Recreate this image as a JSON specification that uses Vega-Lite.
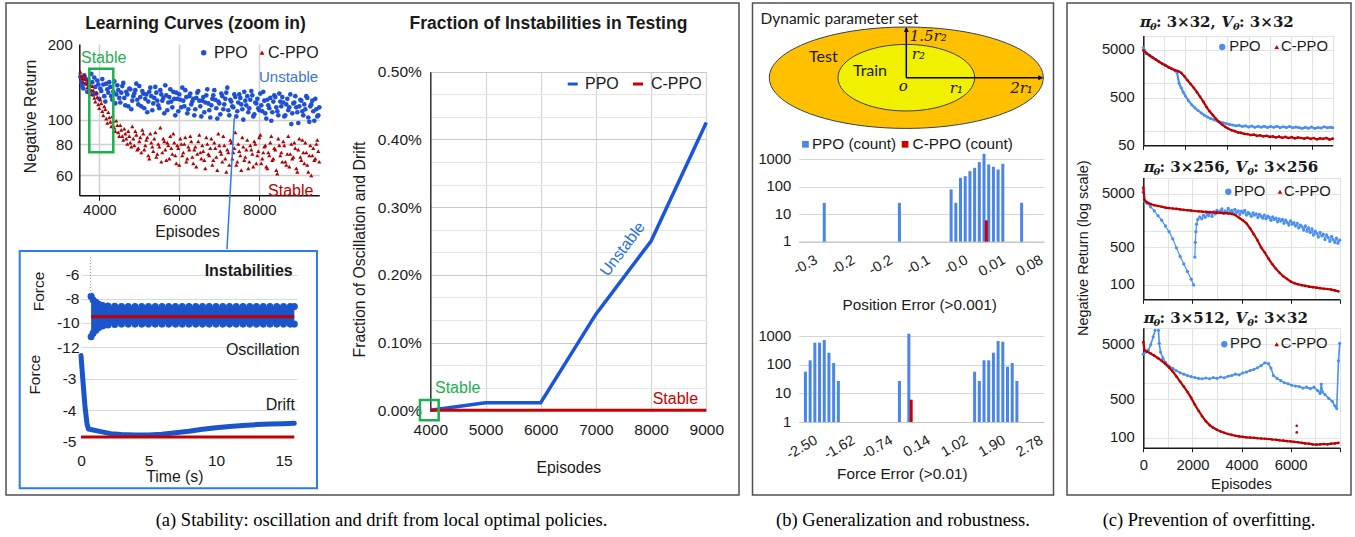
{
  "$schema": "https://vega.github.io/schema/vega-lite/v6.json",
  "background": "white",
  "padding": {"left": 5, "top": 2, "right": 5, "bottom": 2},
  "bounds": "flush",
  "spacing": 13.5,
  "resolve": {"scale": {"x": "independent", "y": "independent"}},
  "config": {
    "view": {"stroke": "#505050", "strokeWidth": 1.5},
    "axis": {"labelFont": "Liberation Sans", "titleFont": "Liberation Sans", "titleFontWeight": "normal", "labelColor": "#1a1a1a", "titleColor": "#1a1a1a", "labelFlush": false, "labelOverlap": false},
    "text": {"font": "Liberation Sans", "color": "#1a1a1a"},
    "title": {"font": "Liberation Serif", "fontWeight": "normal", "fontSize": 18.5, "color": "#000000", "orient": "bottom", "anchor": "middle", "frame": "group", "offset": 16}
  },
  "datasets": {
    "lcP": [
      {"x":3525,"y":148},{"x":3575,"y":136},{"x":3625,"y":150},{"x":3675,"y":139},{"x":3725,"y":144},{"x":3775,"y":130},{"x":3825,"y":141},{"x":3875,"y":147},{"x":3925,"y":127},{"x":3975,"y":138},
      {"x":4025,"y":133},{"x":4075,"y":145},{"x":4125,"y":124},{"x":4175,"y":139},{"x":4225,"y":128},{"x":4275,"y":135},{"x":4325,"y":120},{"x":4375,"y":142},{"x":4425,"y":126},{"x":4475,"y":131},
      {"x":4525,"y":117},{"x":4575,"y":136},{"x":4625,"y":122},{"x":4675,"y":129},{"x":4725,"y":113},{"x":4775,"y":132},{"x":4825,"y":119},{"x":4875,"y":127},{"x":4925,"y":139},{"x":4975,"y":115},
      {"x":5025,"y":123},{"x":5075,"y":130},{"x":5125,"y":111},{"x":5175,"y":126},{"x":5225,"y":118},{"x":5275,"y":134},{"x":5325,"y":109},{"x":5375,"y":122},{"x":5425,"y":128},{"x":5475,"y":114},
      {"x":5525,"y":131},{"x":5575,"y":119},{"x":5625,"y":106},{"x":5675,"y":125},{"x":5725,"y":117},{"x":5775,"y":132},{"x":5825,"y":112},{"x":5875,"y":121},{"x":5925,"y":128},{"x":5975,"y":108},
      {"x":6025,"y":120},{"x":6075,"y":134},{"x":6125,"y":113},{"x":6175,"y":123},{"x":6225,"y":110},{"x":6275,"y":127},{"x":6325,"y":118},{"x":6375,"y":104},{"x":6425,"y":122},{"x":6475,"y":130},
      {"x":6525,"y":113},{"x":6575,"y":119},{"x":6625,"y":107},{"x":6675,"y":125},{"x":6725,"y":116},{"x":6775,"y":102},{"x":6825,"y":121},{"x":6875,"y":131},{"x":6925,"y":111},{"x":6975,"y":118},
      {"x":7025,"y":105},{"x":7075,"y":124},{"x":7125,"y":115},{"x":7175,"y":128},{"x":7225,"y":109},{"x":7275,"y":120},{"x":7325,"y":113},{"x":7375,"y":126},{"x":7425,"y":103},{"x":7475,"y":117},
      {"x":7525,"y":122},{"x":7575,"y":110},{"x":7625,"y":129},{"x":7675,"y":114},{"x":7725,"y":107},{"x":7775,"y":120},{"x":7825,"y":125},{"x":7875,"y":105},{"x":7925,"y":116},{"x":7975,"y":111},
      {"x":8025,"y":127},{"x":8075,"y":108},{"x":8125,"y":119},{"x":8175,"y":101},{"x":8225,"y":114},{"x":8275,"y":122},{"x":8325,"y":107},{"x":8375,"y":125},{"x":8425,"y":112},{"x":8475,"y":104},
      {"x":8525,"y":118},{"x":8575,"y":123},{"x":8625,"y":103},{"x":8675,"y":115},{"x":8725,"y":109},{"x":8775,"y":126},{"x":8825,"y":106},{"x":8875,"y":117},{"x":8925,"y":112},{"x":8975,"y":97},
      {"x":9025,"y":120},{"x":9075,"y":108},{"x":9125,"y":115},{"x":9175,"y":124},{"x":9225,"y":102},{"x":9275,"y":113},{"x":9325,"y":119},{"x":9375,"y":99},{"x":9425,"y":110},{"x":9475,"y":104},
      {"x":3550,"y":141},{"x":3600,"y":133},{"x":3650,"y":146},{"x":3700,"y":129},{"x":3750,"y":137},{"x":3800,"y":152},{"x":3850,"y":126},{"x":3900,"y":135},{"x":3950,"y":143},{"x":4000,"y":121},
      {"x":4050,"y":130},{"x":4100,"y":138},{"x":4150,"y":118},{"x":4200,"y":132},{"x":4250,"y":141},{"x":4300,"y":124},{"x":4350,"y":129},{"x":4400,"y":116},{"x":4450,"y":137},{"x":4500,"y":122},
      {"x":4550,"y":128},{"x":4600,"y":140},{"x":4650,"y":114},{"x":4700,"y":126},{"x":4750,"y":133},{"x":4800,"y":110},{"x":4850,"y":124},{"x":4900,"y":131},{"x":4950,"y":120},{"x":5000,"y":136},
      {"x":5050,"y":113},{"x":5100,"y":127},{"x":5150,"y":121},{"x":5200,"y":107},{"x":5250,"y":129},{"x":5300,"y":124},{"x":5350,"y":116},{"x":5400,"y":135},{"x":5450,"y":119},{"x":5500,"y":111},
      {"x":5550,"y":126},{"x":5600,"y":122},{"x":5650,"y":137},{"x":5700,"y":109},{"x":5750,"y":123},{"x":5800,"y":118},{"x":5850,"y":129},{"x":5900,"y":104},{"x":5950,"y":121},{"x":6000,"y":126},
      {"x":6050,"y":112},{"x":6100,"y":119},{"x":6150,"y":131},{"x":6200,"y":106},{"x":6250,"y":124},{"x":6300,"y":115},{"x":6350,"y":121},{"x":6400,"y":110},{"x":6450,"y":128},{"x":6500,"y":119},
      {"x":6550,"y":103},{"x":6600,"y":123},{"x":6650,"y":117},{"x":6700,"y":132},{"x":6750,"y":109},{"x":6800,"y":114},{"x":6850,"y":125},{"x":6900,"y":120},{"x":6950,"y":101},{"x":7000,"y":116},
      {"x":7050,"y":127},{"x":7100,"y":110},{"x":7150,"y":121},{"x":7200,"y":134},{"x":7250,"y":104},{"x":7300,"y":118},{"x":7350,"y":112},{"x":7400,"y":123},{"x":7450,"y":108},{"x":7500,"y":126},
      {"x":7550,"y":115},{"x":7600,"y":100},{"x":7650,"y":119},{"x":7700,"y":124},{"x":7750,"y":111},{"x":7800,"y":130},{"x":7850,"y":103},{"x":7900,"y":117},{"x":7950,"y":121},{"x":8000,"y":109},
      {"x":8050,"y":114},{"x":8100,"y":129},{"x":8150,"y":106},{"x":8200,"y":120},{"x":8250,"y":111},{"x":8300,"y":99},{"x":8350,"y":118},{"x":8400,"y":123},{"x":8450,"y":108},{"x":8500,"y":127},
      {"x":8550,"y":113},{"x":8600,"y":117},{"x":8650,"y":104},{"x":8700,"y":121},{"x":8750,"y":112},{"x":8800,"y":96},{"x":8850,"y":116},{"x":8900,"y":124},{"x":8950,"y":107},{"x":9000,"y":113},
      {"x":9050,"y":119},{"x":9100,"y":104},{"x":9150,"y":110},{"x":9200,"y":122},{"x":9250,"y":98},{"x":9300,"y":115},{"x":9350,"y":108},{"x":9400,"y":121},{"x":9450,"y":103},{"x":9500,"y":112}
    ],
    "lcC": [
      {"x":3525,"y":155},{"x":3575,"y":146},{"x":3625,"y":150},{"x":3675,"y":139},{"x":3725,"y":143},{"x":3775,"y":131},{"x":3825,"y":136},{"x":3875,"y":122},{"x":3925,"y":128},{"x":3975,"y":115},
      {"x":4025,"y":120},{"x":4075,"y":108},{"x":4125,"y":113},{"x":4175,"y":101},{"x":4225,"y":107},{"x":4275,"y":98},{"x":4325,"y":103},{"x":4375,"y":93},{"x":4425,"y":99},{"x":4475,"y":89},
      {"x":4525,"y":95},{"x":4575,"y":86},{"x":4625,"y":92},{"x":4675,"y":84},{"x":4725,"y":90},{"x":4775,"y":81},{"x":4825,"y":94},{"x":4875,"y":79},{"x":4925,"y":87},{"x":4975,"y":77},
      {"x":5025,"y":85},{"x":5075,"y":91},{"x":5125,"y":76},{"x":5175,"y":83},{"x":5225,"y":72},{"x":5275,"y":88},{"x":5325,"y":78},{"x":5375,"y":84},{"x":5425,"y":71},{"x":5475,"y":80},
      {"x":5525,"y":93},{"x":5575,"y":74},{"x":5625,"y":82},{"x":5675,"y":69},{"x":5725,"y":79},{"x":5775,"y":86},{"x":5825,"y":73},{"x":5875,"y":81},{"x":5925,"y":67},{"x":5975,"y":77},
      {"x":6025,"y":84},{"x":6075,"y":72},{"x":6125,"y":80},{"x":6175,"y":68},{"x":6225,"y":78},{"x":6275,"y":86},{"x":6325,"y":71},{"x":6375,"y":76},{"x":6425,"y":65},{"x":6475,"y":82},
      {"x":6525,"y":74},{"x":6575,"y":79},{"x":6625,"y":69},{"x":6675,"y":85},{"x":6725,"y":73},{"x":6775,"y":77},{"x":6825,"y":66},{"x":6875,"y":81},{"x":6925,"y":71},{"x":6975,"y":88},
      {"x":7025,"y":75},{"x":7075,"y":68},{"x":7125,"y":79},{"x":7175,"y":62},{"x":7225,"y":74},{"x":7275,"y":83},{"x":7325,"y":70},{"x":7375,"y":77},{"x":7425,"y":66},{"x":7475,"y":80},
      {"x":7525,"y":72},{"x":7575,"y":85},{"x":7625,"y":69},{"x":7675,"y":76},{"x":7725,"y":64},{"x":7775,"y":79},{"x":7825,"y":73},{"x":7875,"y":82},{"x":7925,"y":67},{"x":7975,"y":75},
      {"x":8025,"y":87},{"x":8075,"y":70},{"x":8125,"y":78},{"x":8175,"y":65},{"x":8225,"y":74},{"x":8275,"y":81},{"x":8325,"y":69},{"x":8375,"y":77},{"x":8425,"y":63},{"x":8475,"y":84},
      {"x":8525,"y":72},{"x":8575,"y":68},{"x":8625,"y":79},{"x":8675,"y":66},{"x":8725,"y":86},{"x":8775,"y":73},{"x":8825,"y":70},{"x":8875,"y":81},{"x":8925,"y":64},{"x":8975,"y":76},
      {"x":9025,"y":71},{"x":9075,"y":83},{"x":9125,"y":67},{"x":9175,"y":74},{"x":9225,"y":62},{"x":9275,"y":79},{"x":9325,"y":72},{"x":9375,"y":69},{"x":9425,"y":80},{"x":9475,"y":75},
      {"x":3550,"y":149},{"x":3600,"y":141},{"x":3650,"y":145},{"x":3700,"y":134},{"x":3750,"y":138},{"x":3800,"y":126},{"x":3850,"y":131},{"x":3900,"y":118},{"x":3950,"y":123},{"x":4000,"y":111},
      {"x":4050,"y":116},{"x":4100,"y":104},{"x":4150,"y":110},{"x":4200,"y":97},{"x":4250,"y":102},{"x":4300,"y":94},{"x":4350,"y":99},{"x":4400,"y":90},{"x":4450,"y":95},{"x":4500,"y":86},
      {"x":4550,"y":91},{"x":4600,"y":83},{"x":4650,"y":88},{"x":4700,"y":80},{"x":4750,"y":86},{"x":4800,"y":78},{"x":4850,"y":84},{"x":4900,"y":90},{"x":4950,"y":76},{"x":5000,"y":82},
      {"x":5050,"y":74},{"x":5100,"y":88},{"x":5150,"y":79},{"x":5200,"y":85},{"x":5250,"y":70},{"x":5300,"y":81},{"x":5350,"y":75},{"x":5400,"y":89},{"x":5450,"y":73},{"x":5500,"y":78},
      {"x":5550,"y":68},{"x":5600,"y":84},{"x":5650,"y":76},{"x":5700,"y":81},{"x":5750,"y":70},{"x":5800,"y":77},{"x":5850,"y":88},{"x":5900,"y":72},{"x":5950,"y":79},{"x":6000,"y":66},
      {"x":6050,"y":80},{"x":6100,"y":74},{"x":6150,"y":85},{"x":6200,"y":70},{"x":6250,"y":76},{"x":6300,"y":82},{"x":6350,"y":67},{"x":6400,"y":78},{"x":6450,"y":73},{"x":6500,"y":87},
      {"x":6550,"y":70},{"x":6600,"y":75},{"x":6650,"y":64},{"x":6700,"y":80},{"x":6750,"y":72},{"x":6800,"y":84},{"x":6850,"y":69},{"x":6900,"y":77},{"x":6950,"y":63},{"x":7000,"y":79},
      {"x":7050,"y":73},{"x":7100,"y":86},{"x":7150,"y":70},{"x":7200,"y":76},{"x":7250,"y":66},{"x":7300,"y":81},{"x":7350,"y":74},{"x":7400,"y":89},{"x":7450,"y":68},{"x":7500,"y":75},
      {"x":7550,"y":63},{"x":7600,"y":78},{"x":7650,"y":71},{"x":7700,"y":83},{"x":7750,"y":68},{"x":7800,"y":76},{"x":7850,"y":65},{"x":7900,"y":80},{"x":7950,"y":72},{"x":8000,"y":85},
      {"x":8050,"y":67},{"x":8100,"y":74},{"x":8150,"y":79},{"x":8200,"y":64},{"x":8250,"y":72},{"x":8300,"y":86},{"x":8350,"y":70},{"x":8400,"y":76},{"x":8450,"y":61},{"x":8500,"y":79},
      {"x":8550,"y":74},{"x":8600,"y":82},{"x":8650,"y":68},{"x":8700,"y":73},{"x":8750,"y":65},{"x":8800,"y":80},{"x":8850,"y":71},{"x":8900,"y":77},{"x":8950,"y":62},{"x":9000,"y":84},
      {"x":9050,"y":69},{"x":9100,"y":74},{"x":9150,"y":81},{"x":9200,"y":66},{"x":9250,"y":72},{"x":9300,"y":60},{"x":9350,"y":77},{"x":9400,"y":70},{"x":9450,"y":83},{"x":9500,"y":68}
    ],
    "osc": [
      {"t":0.75,"hi":-7.8,"lo":-11.15},{"t":0.9,"hi":-8.1,"lo":-10.85},{"t":1.1,"hi":-8.3,"lo":-10.6},{"t":1.3,"hi":-8.45,"lo":-10.4},{"t":1.6,"hi":-8.55,"lo":-10.25},{"t":2,"hi":-8.6,"lo":-10.18},{"t":2.5,"hi":-8.62,"lo":-10.14},
      {"t":3,"hi":-8.65,"lo":-10.1},{"t":3.5,"hi":-8.65,"lo":-10.1},{"t":4,"hi":-8.65,"lo":-10.1},{"t":4.5,"hi":-8.65,"lo":-10.1},{"t":5,"hi":-8.65,"lo":-10.1},{"t":5.5,"hi":-8.65,"lo":-10.1},{"t":6,"hi":-8.65,"lo":-10.1},
      {"t":6.5,"hi":-8.65,"lo":-10.1},{"t":7,"hi":-8.65,"lo":-10.1},{"t":7.5,"hi":-8.65,"lo":-10.1},{"t":8,"hi":-8.65,"lo":-10.1},{"t":8.5,"hi":-8.65,"lo":-10.1},{"t":9,"hi":-8.65,"lo":-10.1},{"t":9.5,"hi":-8.65,"lo":-10.1},
      {"t":10,"hi":-8.65,"lo":-10.1},{"t":10.5,"hi":-8.65,"lo":-10.1},{"t":11,"hi":-8.65,"lo":-10.1},{"t":11.5,"hi":-8.65,"lo":-10.1},{"t":12,"hi":-8.65,"lo":-10.1},{"t":12.5,"hi":-8.65,"lo":-10.1},{"t":13,"hi":-8.65,"lo":-10.1},
      {"t":13.5,"hi":-8.65,"lo":-10.1},{"t":14,"hi":-8.65,"lo":-10.1},{"t":14.5,"hi":-8.65,"lo":-10.1},{"t":15,"hi":-8.65,"lo":-10.1},{"t":15.5,"hi":-8.65,"lo":-10.1},{"t":15.8,"hi":-8.65,"lo":-10.1}
    ],
    "drift": [
      {"t":0,"f":-2.25},{"t":0.15,"f":-3.1},{"t":0.3,"f":-3.9},{"t":0.45,"f":-4.45},{"t":0.55,"f":-4.6},{"t":1.2,"f":-4.66},{"t":2.2,"f":-4.75},{"t":3,"f":-4.78},{"t":4,"f":-4.79},{"t":5,"f":-4.79},{"t":6,"f":-4.77},
      {"t":7,"f":-4.72},{"t":8,"f":-4.67},{"t":9,"f":-4.61},{"t":10,"f":-4.56},{"t":11,"f":-4.52},{"t":12,"f":-4.49},{"t":13,"f":-4.46},{"t":14,"f":-4.44},{"t":15,"f":-4.43},{"t":15.8,"f":-4.42}
    ],
    "frac": [
      {"s":"PPO","x":4000,"y":0},{"s":"PPO","x":5000,"y":0.000112},{"s":"PPO","x":6000,"y":0.000112},{"s":"PPO","x":7000,"y":0.00142},{"s":"PPO","x":8000,"y":0.0025},{"s":"PPO","x":9000,"y":0.00425},
      {"s":"C-PPO","x":4000,"y":0},{"s":"C-PPO","x":5000,"y":0},{"s":"C-PPO","x":6000,"y":0},{"s":"C-PPO","x":7000,"y":0},{"s":"C-PPO","x":8000,"y":0},{"s":"C-PPO","x":9000,"y":0}
    ],
    "posH": [
      {"s":"PPO","k":4,"n":26},{"s":"PPO","k":20,"n":26},{"s":"PPO","k":31,"n":80},{"s":"PPO","k":32,"n":26},{"s":"PPO","k":33,"n":212},{"s":"PPO","k":34,"n":244},{"s":"PPO","k":35,"n":371},{"s":"PPO","k":36,"n":491},
      {"s":"PPO","k":37,"n":789},{"s":"PPO","k":38,"n":1585},{"s":"PPO","k":39,"n":649},{"s":"PPO","k":40,"n":533},{"s":"PPO","k":41,"n":427},{"s":"PPO","k":42,"n":686},{"s":"PPO","k":46,"n":26},
      {"s":"C-PPO","k":38.5,"n":6}
    ],
    "forH": [
      {"s":"PPO","k":0,"n":57},{"s":"PPO","k":1,"n":142},{"s":"PPO","k":2,"n":585},{"s":"PPO","k":3,"n":585},{"s":"PPO","k":4,"n":725},{"s":"PPO","k":5,"n":262},{"s":"PPO","k":6,"n":114},{"s":"PPO","k":7,"n":27},
      {"s":"PPO","k":20,"n":27},{"s":"PPO","k":22,"n":1205},
      {"s":"PPO","k":36,"n":57},{"s":"PPO","k":37,"n":27},{"s":"PPO","k":38,"n":142},{"s":"PPO","k":39,"n":142},{"s":"PPO","k":40,"n":262},{"s":"PPO","k":41,"n":670},{"s":"PPO","k":42,"n":632},{"s":"PPO","k":43,"n":85},{"s":"PPO","k":44,"n":114},{"s":"PPO","k":45,"n":27},
      {"s":"C-PPO","k":22.5,"n":6}
    ],
    "c1": [
      {"s":"PPO","g":"a","x":0,"y":5600},{"s":"PPO","g":"a","x":150,"y":4300},{"s":"PPO","g":"a","x":300,"y":3900},{"s":"PPO","g":"a","x":450,"y":3500},{"s":"PPO","g":"a","x":600,"y":3150},{"s":"PPO","g":"a","x":750,"y":2850},
      {"s":"PPO","g":"a","x":900,"y":2600},{"s":"PPO","g":"a","x":1050,"y":2400},{"s":"PPO","g":"a","x":1200,"y":2200},{"s":"PPO","g":"a","x":1350,"y":2020},{"s":"PPO","g":"a","x":1500,"y":1850},{"s":"PPO","g":"a","x":1600,"y":1700},
      {"s":"PPO","g":"a","x":1700,"y":1000},{"s":"PPO","g":"a","x":1800,"y":800},{"s":"PPO","g":"a","x":1900,"y":650},{"s":"PPO","g":"a","x":2000,"y":540},{"s":"PPO","g":"a","x":2150,"y":430},{"s":"PPO","g":"a","x":2300,"y":355},
      {"s":"PPO","g":"a","x":2450,"y":305},{"s":"PPO","g":"a","x":2600,"y":268},{"s":"PPO","g":"a","x":2750,"y":238},{"s":"PPO","g":"a","x":2900,"y":214},{"s":"PPO","g":"a","x":3050,"y":196},{"s":"PPO","g":"a","x":3200,"y":182},
      {"s":"PPO","g":"a","x":3350,"y":171},{"s":"PPO","g":"a","x":3500,"y":162},{"s":"PPO","g":"a","x":3650,"y":154},{"s":"PPO","g":"a","x":3800,"y":148},{"s":"PPO","g":"a","x":3950,"y":142},{"s":"PPO","g":"a","x":4100,"y":137},
      {"s":"PPO","g":"a","x":4250,"y":133},{"s":"PPO","g":"a","x":4400,"y":128},{"s":"PPO","g":"a","x":4550,"y":131},{"s":"PPO","g":"a","x":4700,"y":124},{"s":"PPO","g":"a","x":4850,"y":128},{"s":"PPO","g":"a","x":5000,"y":121},
      {"s":"PPO","g":"a","x":5150,"y":127},{"s":"PPO","g":"a","x":5300,"y":119},{"s":"PPO","g":"a","x":5450,"y":125},{"s":"PPO","g":"a","x":5600,"y":120},{"s":"PPO","g":"a","x":5750,"y":126},{"s":"PPO","g":"a","x":5900,"y":118},
      {"s":"PPO","g":"a","x":6050,"y":124},{"s":"PPO","g":"a","x":6200,"y":119},{"s":"PPO","g":"a","x":6350,"y":126},{"s":"PPO","g":"a","x":6500,"y":117},{"s":"PPO","g":"a","x":6650,"y":123},{"s":"PPO","g":"a","x":6800,"y":118},
      {"s":"PPO","g":"a","x":6950,"y":124},{"s":"PPO","g":"a","x":7100,"y":116},{"s":"PPO","g":"a","x":7250,"y":121},{"s":"PPO","g":"a","x":7400,"y":117},{"s":"PPO","g":"a","x":7550,"y":113},{"s":"PPO","g":"a","x":7700,"y":120},
      {"s":"PPO","g":"a","x":7850,"y":114},{"s":"PPO","g":"a","x":8000,"y":121},{"s":"PPO","g":"a","x":8150,"y":113},{"s":"PPO","g":"a","x":8300,"y":118},{"s":"PPO","g":"a","x":8450,"y":115},{"s":"PPO","g":"a","x":8600,"y":122},
      {"s":"PPO","g":"a","x":8750,"y":116},{"s":"PPO","g":"a","x":8900,"y":120},{"s":"PPO","g":"a","x":9000,"y":117},
      {"s":"C-PPO","g":"a","x":0,"y":4900},{"s":"C-PPO","g":"a","x":150,"y":4200},{"s":"C-PPO","g":"a","x":300,"y":3800},{"s":"C-PPO","g":"a","x":450,"y":3400},{"s":"C-PPO","g":"a","x":600,"y":3100},{"s":"C-PPO","g":"a","x":750,"y":2800},
      {"s":"C-PPO","g":"a","x":900,"y":2550},{"s":"C-PPO","g":"a","x":1050,"y":2350},{"s":"C-PPO","g":"a","x":1200,"y":2150},{"s":"C-PPO","g":"a","x":1350,"y":2000},{"s":"C-PPO","g":"a","x":1500,"y":1880},{"s":"C-PPO","g":"a","x":1650,"y":1800},
      {"s":"C-PPO","g":"a","x":1800,"y":1650},{"s":"C-PPO","g":"a","x":1950,"y":1400},{"s":"C-PPO","g":"a","x":2100,"y":1150},{"s":"C-PPO","g":"a","x":2250,"y":960},{"s":"C-PPO","g":"a","x":2400,"y":800},{"s":"C-PPO","g":"a","x":2550,"y":650},
      {"s":"C-PPO","g":"a","x":2700,"y":520},{"s":"C-PPO","g":"a","x":2850,"y":410},{"s":"C-PPO","g":"a","x":3000,"y":320},{"s":"C-PPO","g":"a","x":3150,"y":258},{"s":"C-PPO","g":"a","x":3300,"y":215},{"s":"C-PPO","g":"a","x":3450,"y":180},
      {"s":"C-PPO","g":"a","x":3600,"y":153},{"s":"C-PPO","g":"a","x":3750,"y":135},{"s":"C-PPO","g":"a","x":3900,"y":121},{"s":"C-PPO","g":"a","x":4050,"y":111},{"s":"C-PPO","g":"a","x":4200,"y":103},{"s":"C-PPO","g":"a","x":4350,"y":99},
      {"s":"C-PPO","g":"a","x":4500,"y":93},{"s":"C-PPO","g":"a","x":4650,"y":91},{"s":"C-PPO","g":"a","x":4800,"y":87},{"s":"C-PPO","g":"a","x":4950,"y":86},{"s":"C-PPO","g":"a","x":5100,"y":82},{"s":"C-PPO","g":"a","x":5250,"y":84},
      {"s":"C-PPO","g":"a","x":5400,"y":79},{"s":"C-PPO","g":"a","x":5550,"y":81},{"s":"C-PPO","g":"a","x":5700,"y":77},{"s":"C-PPO","g":"a","x":5850,"y":79},{"s":"C-PPO","g":"a","x":6000,"y":75},{"s":"C-PPO","g":"a","x":6150,"y":77},
      {"s":"C-PPO","g":"a","x":6300,"y":73},{"s":"C-PPO","g":"a","x":6450,"y":76},{"s":"C-PPO","g":"a","x":6600,"y":72},{"s":"C-PPO","g":"a","x":6750,"y":75},{"s":"C-PPO","g":"a","x":6900,"y":71},{"s":"C-PPO","g":"a","x":7050,"y":74},
      {"s":"C-PPO","g":"a","x":7200,"y":70},{"s":"C-PPO","g":"a","x":7350,"y":73},{"s":"C-PPO","g":"a","x":7500,"y":71},{"s":"C-PPO","g":"a","x":7650,"y":69},{"s":"C-PPO","g":"a","x":7800,"y":72},{"s":"C-PPO","g":"a","x":7950,"y":68},
      {"s":"C-PPO","g":"a","x":8100,"y":71},{"s":"C-PPO","g":"a","x":8250,"y":67},{"s":"C-PPO","g":"a","x":8400,"y":70},{"s":"C-PPO","g":"a","x":8550,"y":68},{"s":"C-PPO","g":"a","x":8700,"y":71},{"s":"C-PPO","g":"a","x":8850,"y":66},
      {"s":"C-PPO","g":"a","x":9000,"y":69}
    ],
    "c2": [
      {"s":"PPO","g":"a","x":0,"y":5300},{"s":"PPO","g":"a","x":60,"y":3600},{"s":"PPO","g":"a","x":150,"y":3350},{"s":"PPO","g":"a","x":300,"y":2850},{"s":"PPO","g":"a","x":450,"y":2400},{"s":"PPO","g":"a","x":600,"y":1950},
      {"s":"PPO","g":"a","x":750,"y":1600},{"s":"PPO","g":"a","x":900,"y":1250},{"s":"PPO","g":"a","x":1050,"y":980},{"s":"PPO","g":"a","x":1200,"y":720},{"s":"PPO","g":"a","x":1350,"y":490},{"s":"PPO","g":"a","x":1500,"y":340},
      {"s":"PPO","g":"a","x":1650,"y":245},{"s":"PPO","g":"a","x":1800,"y":178},{"s":"PPO","g":"a","x":1950,"y":128},{"s":"PPO","g":"a","x":2050,"y":100},
      {"s":"PPO","g":"b","x":2100,"y":330},{"s":"PPO","g":"b","x":2120,"y":620},{"s":"PPO","g":"b","x":2140,"y":980},{"s":"PPO","g":"b","x":2170,"y":1350},{"s":"PPO","g":"b","x":2220,"y":1650},{"s":"PPO","g":"b","x":2300,"y":1850},
      {"s":"PPO","g":"b","x":2380,"y":1700},{"s":"PPO","g":"b","x":2450,"y":2000},{"s":"PPO","g":"b","x":2520,"y":1820},{"s":"PPO","g":"b","x":2600,"y":2150},{"s":"PPO","g":"b","x":2660,"y":1950},{"s":"PPO","g":"b","x":2730,"y":2250},
      {"s":"PPO","g":"b","x":2800,"y":1900},{"s":"PPO","g":"b","x":2870,"y":2300},{"s":"PPO","g":"b","x":2930,"y":2100},{"s":"PPO","g":"b","x":3000,"y":2450},{"s":"PPO","g":"b","x":3060,"y":2200},{"s":"PPO","g":"b","x":3130,"y":2350},
      {"s":"PPO","g":"b","x":3200,"y":2600},{"s":"PPO","g":"b","x":3260,"y":2150},{"s":"PPO","g":"b","x":3330,"y":2400},{"s":"PPO","g":"b","x":3400,"y":2250},{"s":"PPO","g":"b","x":3460,"y":2650},{"s":"PPO","g":"b","x":3530,"y":2300},
      {"s":"PPO","g":"b","x":3600,"y":2450},{"s":"PPO","g":"b","x":3660,"y":2150},{"s":"PPO","g":"b","x":3730,"y":2550},{"s":"PPO","g":"b","x":3800,"y":2250},{"s":"PPO","g":"b","x":3870,"y":2400},{"s":"PPO","g":"b","x":3930,"y":2050},
      {"s":"PPO","g":"b","x":4000,"y":2350},{"s":"PPO","g":"b","x":4070,"y":2200},{"s":"PPO","g":"b","x":4130,"y":2450},{"s":"PPO","g":"b","x":4200,"y":2000},{"s":"PPO","g":"b","x":4270,"y":2250},{"s":"PPO","g":"b","x":4330,"y":2100},
      {"s":"PPO","g":"b","x":4400,"y":1900},{"s":"PPO","g":"b","x":4470,"y":2200},{"s":"PPO","g":"b","x":4530,"y":2000},{"s":"PPO","g":"b","x":4600,"y":2100},{"s":"PPO","g":"b","x":4670,"y":1800},{"s":"PPO","g":"b","x":4730,"y":2050},
      {"s":"PPO","g":"b","x":4800,"y":1900},{"s":"PPO","g":"b","x":4870,"y":1750},{"s":"PPO","g":"b","x":4930,"y":2000},{"s":"PPO","g":"b","x":5000,"y":1700},{"s":"PPO","g":"b","x":5070,"y":1900},{"s":"PPO","g":"b","x":5130,"y":1800},
      {"s":"PPO","g":"b","x":5200,"y":1600},{"s":"PPO","g":"b","x":5270,"y":1850},{"s":"PPO","g":"b","x":5330,"y":1650},{"s":"PPO","g":"b","x":5400,"y":1750},{"s":"PPO","g":"b","x":5470,"y":1500},{"s":"PPO","g":"b","x":5530,"y":1700},
      {"s":"PPO","g":"b","x":5600,"y":1550},{"s":"PPO","g":"b","x":5670,"y":1650},{"s":"PPO","g":"b","x":5730,"y":1400},{"s":"PPO","g":"b","x":5800,"y":1600},{"s":"PPO","g":"b","x":5870,"y":1450},{"s":"PPO","g":"b","x":5930,"y":1300},
      {"s":"PPO","g":"b","x":6000,"y":1550},{"s":"PPO","g":"b","x":6070,"y":1350},{"s":"PPO","g":"b","x":6130,"y":1450},{"s":"PPO","g":"b","x":6200,"y":1250},{"s":"PPO","g":"b","x":6270,"y":1400},{"s":"PPO","g":"b","x":6330,"y":1150},
      {"s":"PPO","g":"b","x":6400,"y":1300},{"s":"PPO","g":"b","x":6470,"y":1200},{"s":"PPO","g":"b","x":6530,"y":1050},{"s":"PPO","g":"b","x":6600,"y":1250},{"s":"PPO","g":"b","x":6670,"y":1000},{"s":"PPO","g":"b","x":6730,"y":1150},
      {"s":"PPO","g":"b","x":6800,"y":950},{"s":"PPO","g":"b","x":6870,"y":1100},{"s":"PPO","g":"b","x":6930,"y":850},{"s":"PPO","g":"b","x":7000,"y":1000},{"s":"PPO","g":"b","x":7070,"y":900},{"s":"PPO","g":"b","x":7130,"y":780},
      {"s":"PPO","g":"b","x":7200,"y":950},{"s":"PPO","g":"b","x":7270,"y":820},{"s":"PPO","g":"b","x":7330,"y":880},{"s":"PPO","g":"b","x":7400,"y":700},{"s":"PPO","g":"b","x":7470,"y":850},{"s":"PPO","g":"b","x":7530,"y":760},
      {"s":"PPO","g":"b","x":7600,"y":650},{"s":"PPO","g":"b","x":7670,"y":800},{"s":"PPO","g":"b","x":7730,"y":700},{"s":"PPO","g":"b","x":7800,"y":620},{"s":"PPO","g":"b","x":7870,"y":740},{"s":"PPO","g":"b","x":7930,"y":600},
      {"s":"PPO","g":"b","x":8000,"y":680},
      {"s":"C-PPO","g":"a","x":0,"y":6500},{"s":"C-PPO","g":"a","x":50,"y":3800},{"s":"C-PPO","g":"a","x":150,"y":3450},{"s":"C-PPO","g":"a","x":300,"y":3200},{"s":"C-PPO","g":"a","x":450,"y":3050},{"s":"C-PPO","g":"a","x":600,"y":2950},
      {"s":"C-PPO","g":"a","x":750,"y":2850},{"s":"C-PPO","g":"a","x":900,"y":2750},{"s":"C-PPO","g":"a","x":1050,"y":2700},{"s":"C-PPO","g":"a","x":1200,"y":2650},{"s":"C-PPO","g":"a","x":1350,"y":2600},{"s":"C-PPO","g":"a","x":1500,"y":2550},
      {"s":"C-PPO","g":"a","x":1650,"y":2500},{"s":"C-PPO","g":"a","x":1800,"y":2460},{"s":"C-PPO","g":"a","x":1950,"y":2420},{"s":"C-PPO","g":"a","x":2100,"y":2380},{"s":"C-PPO","g":"a","x":2250,"y":2350},{"s":"C-PPO","g":"a","x":2400,"y":2320},
      {"s":"C-PPO","g":"a","x":2550,"y":2300},{"s":"C-PPO","g":"a","x":2700,"y":2270},{"s":"C-PPO","g":"a","x":2850,"y":2250},{"s":"C-PPO","g":"a","x":3000,"y":2220},{"s":"C-PPO","g":"a","x":3150,"y":2200},{"s":"C-PPO","g":"a","x":3300,"y":2170},
      {"s":"C-PPO","g":"a","x":3450,"y":2140},{"s":"C-PPO","g":"a","x":3600,"y":2100},{"s":"C-PPO","g":"a","x":3750,"y":2000},{"s":"C-PPO","g":"a","x":3900,"y":1780},{"s":"C-PPO","g":"a","x":4050,"y":1600},{"s":"C-PPO","g":"a","x":4200,"y":1400},
      {"s":"C-PPO","g":"a","x":4350,"y":1130},{"s":"C-PPO","g":"a","x":4500,"y":880},{"s":"C-PPO","g":"a","x":4650,"y":680},{"s":"C-PPO","g":"a","x":4800,"y":500},{"s":"C-PPO","g":"a","x":4950,"y":400},{"s":"C-PPO","g":"a","x":5100,"y":310},
      {"s":"C-PPO","g":"a","x":5250,"y":245},{"s":"C-PPO","g":"a","x":5400,"y":200},{"s":"C-PPO","g":"a","x":5550,"y":168},{"s":"C-PPO","g":"a","x":5700,"y":145},{"s":"C-PPO","g":"a","x":5850,"y":130},{"s":"C-PPO","g":"a","x":6000,"y":116},
      {"s":"C-PPO","g":"a","x":6150,"y":108},{"s":"C-PPO","g":"a","x":6300,"y":103},{"s":"C-PPO","g":"a","x":6450,"y":99},{"s":"C-PPO","g":"a","x":6600,"y":96},{"s":"C-PPO","g":"a","x":6750,"y":93},{"s":"C-PPO","g":"a","x":6900,"y":91},
      {"s":"C-PPO","g":"a","x":7050,"y":89},{"s":"C-PPO","g":"a","x":7200,"y":87},{"s":"C-PPO","g":"a","x":7350,"y":85},{"s":"C-PPO","g":"a","x":7500,"y":84},{"s":"C-PPO","g":"a","x":7650,"y":82},{"s":"C-PPO","g":"a","x":7800,"y":79},
      {"s":"C-PPO","g":"a","x":7950,"y":76}
    ],
    "c3": [
      {"s":"PPO","g":"a","x":0,"y":3300},{"s":"PPO","g":"a","x":100,"y":3600},{"s":"PPO","g":"a","x":200,"y":3900},{"s":"PPO","g":"a","x":300,"y":4900},{"s":"PPO","g":"a","x":400,"y":6800},{"s":"PPO","g":"a","x":480,"y":9000},
      {"s":"PPO","g":"b","x":620,"y":9000},{"s":"PPO","g":"b","x":650,"y":5200},{"s":"PPO","g":"b","x":700,"y":3600},{"s":"PPO","g":"b","x":800,"y":2800},{"s":"PPO","g":"b","x":900,"y":2350},{"s":"PPO","g":"b","x":1050,"y":2000},
      {"s":"PPO","g":"b","x":1200,"y":1820},{"s":"PPO","g":"b","x":1350,"y":1650},{"s":"PPO","g":"b","x":1500,"y":1520},{"s":"PPO","g":"b","x":1650,"y":1430},{"s":"PPO","g":"b","x":1800,"y":1350},{"s":"PPO","g":"b","x":1950,"y":1290},
      {"s":"PPO","g":"b","x":2100,"y":1240},{"s":"PPO","g":"b","x":2250,"y":1200},{"s":"PPO","g":"b","x":2400,"y":1180},{"s":"PPO","g":"b","x":2550,"y":1220},{"s":"PPO","g":"b","x":2700,"y":1180},{"s":"PPO","g":"b","x":2850,"y":1240},
      {"s":"PPO","g":"b","x":3000,"y":1200},{"s":"PPO","g":"b","x":3150,"y":1270},{"s":"PPO","g":"b","x":3300,"y":1230},{"s":"PPO","g":"b","x":3450,"y":1310},{"s":"PPO","g":"b","x":3600,"y":1350},{"s":"PPO","g":"b","x":3750,"y":1430},
      {"s":"PPO","g":"b","x":3900,"y":1390},{"s":"PPO","g":"b","x":4050,"y":1500},{"s":"PPO","g":"b","x":4200,"y":1560},{"s":"PPO","g":"b","x":4350,"y":1660},{"s":"PPO","g":"b","x":4500,"y":1740},{"s":"PPO","g":"b","x":4650,"y":1870},
      {"s":"PPO","g":"b","x":4800,"y":2050},{"s":"PPO","g":"b","x":4950,"y":2300},{"s":"PPO","g":"b","x":5100,"y":2220},{"s":"PPO","g":"b","x":5200,"y":1850},{"s":"PPO","g":"b","x":5300,"y":1350},{"s":"PPO","g":"b","x":5450,"y":1200},
      {"s":"PPO","g":"b","x":5600,"y":1090},{"s":"PPO","g":"b","x":5750,"y":1000},{"s":"PPO","g":"b","x":5900,"y":960},{"s":"PPO","g":"b","x":6050,"y":900},{"s":"PPO","g":"b","x":6200,"y":870},{"s":"PPO","g":"b","x":6350,"y":850},
      {"s":"PPO","g":"b","x":6500,"y":800},{"s":"PPO","g":"b","x":6650,"y":830},{"s":"PPO","g":"b","x":6800,"y":780},{"s":"PPO","g":"b","x":6950,"y":830},{"s":"PPO","g":"b","x":7100,"y":720},{"s":"PPO","g":"b","x":7200,"y":640},
      {"s":"PPO","g":"b","x":7250,"y":950},{"s":"PPO","g":"b","x":7300,"y":680},{"s":"PPO","g":"b","x":7400,"y":610},{"s":"PPO","g":"b","x":7550,"y":520},{"s":"PPO","g":"b","x":7700,"y":460},{"s":"PPO","g":"b","x":7800,"y":380},
      {"s":"PPO","g":"b","x":7880,"y":340},{"s":"PPO","g":"b","x":7950,"y":2500},{"s":"PPO","g":"b","x":8000,"y":5200},
      {"s":"C-PPO","g":"a","x":0,"y":5500},{"s":"C-PPO","g":"a","x":50,"y":3900},{"s":"C-PPO","g":"a","x":150,"y":3700},{"s":"C-PPO","g":"a","x":300,"y":3400},{"s":"C-PPO","g":"a","x":450,"y":3100},{"s":"C-PPO","g":"a","x":600,"y":2800},
      {"s":"C-PPO","g":"a","x":750,"y":2500},{"s":"C-PPO","g":"a","x":900,"y":2200},{"s":"C-PPO","g":"a","x":1050,"y":1900},{"s":"C-PPO","g":"a","x":1200,"y":1600},{"s":"C-PPO","g":"a","x":1350,"y":1300},{"s":"C-PPO","g":"a","x":1500,"y":1050},
      {"s":"C-PPO","g":"a","x":1650,"y":850},{"s":"C-PPO","g":"a","x":1800,"y":680},{"s":"C-PPO","g":"a","x":1950,"y":530},{"s":"C-PPO","g":"a","x":2100,"y":400},{"s":"C-PPO","g":"a","x":2250,"y":310},{"s":"C-PPO","g":"a","x":2400,"y":245},
      {"s":"C-PPO","g":"a","x":2550,"y":200},{"s":"C-PPO","g":"a","x":2700,"y":170},{"s":"C-PPO","g":"a","x":2850,"y":152},{"s":"C-PPO","g":"a","x":3000,"y":140},{"s":"C-PPO","g":"a","x":3150,"y":130},{"s":"C-PPO","g":"a","x":3300,"y":123},
      {"s":"C-PPO","g":"a","x":3450,"y":117},{"s":"C-PPO","g":"a","x":3600,"y":113},{"s":"C-PPO","g":"a","x":3750,"y":109},{"s":"C-PPO","g":"a","x":3900,"y":106},{"s":"C-PPO","g":"a","x":4050,"y":104},{"s":"C-PPO","g":"a","x":4200,"y":102},
      {"s":"C-PPO","g":"a","x":4350,"y":101},{"s":"C-PPO","g":"a","x":4500,"y":100},{"s":"C-PPO","g":"a","x":4650,"y":98},{"s":"C-PPO","g":"a","x":4800,"y":97},{"s":"C-PPO","g":"a","x":4950,"y":96},{"s":"C-PPO","g":"a","x":5100,"y":95},
      {"s":"C-PPO","g":"a","x":5250,"y":93},{"s":"C-PPO","g":"a","x":5400,"y":92},{"s":"C-PPO","g":"a","x":5550,"y":90},{"s":"C-PPO","g":"a","x":5700,"y":89},{"s":"C-PPO","g":"a","x":5850,"y":87},{"s":"C-PPO","g":"a","x":6000,"y":86},
      {"s":"C-PPO","g":"a","x":6150,"y":84},{"s":"C-PPO","g":"a","x":6300,"y":83},{"s":"C-PPO","g":"a","x":6450,"y":81},{"s":"C-PPO","g":"a","x":6600,"y":79},{"s":"C-PPO","g":"a","x":6750,"y":78},{"s":"C-PPO","g":"a","x":6900,"y":76},
      {"s":"C-PPO","g":"a","x":7050,"y":75},{"s":"C-PPO","g":"a","x":7200,"y":76},{"s":"C-PPO","g":"a","x":7350,"y":77},{"s":"C-PPO","g":"a","x":7500,"y":76},{"s":"C-PPO","g":"a","x":7650,"y":78},{"s":"C-PPO","g":"a","x":7800,"y":79},
      {"s":"C-PPO","g":"a","x":7950,"y":81},
      {"s":"C-PPO","g":"o","x":6250,"y":165},{"s":"C-PPO","g":"o","x":6250,"y":125}
    ]
  },
  "hconcat": [
    {
      "width": 733, "height": 492,
      "title": {"text": "(a) Stability: oscillation and drift from local optimal policies.", "dx": 9},
      "resolve": {"scale": {"x": "independent", "y": "independent"}},
      "layer": [
        {
          "resolve": {"axis": {"x": "independent"}},
          "layer": [
            {"data": {"name": "lcP"}, "mark": {"type": "point", "shape": "circle", "filled": true, "size": 22, "color": "#1d50d4", "opacity": 1},
             "encoding": {
               "x": {"field": "x", "type": "quantitative", "scale": {"domain": [3500, 9500], "range": [73.3, 313.3], "nice": false, "zero": false},
                     "axis": {"orient": "bottom", "offset": -299.7, "values": [4000, 6000, 8000], "tickCount": 100, "format": "d", "grid": false, "domainColor": "#111111", "domainWidth": 1.5, "tickColor": "#111111", "tickSize": 5, "labelFontSize": 15, "labelPadding": 2, "title": "Episodes", "titleFontSize": 15.7, "titleX": 181, "titleY": 35.7, "titleBaseline": "middle"}},
               "y": {"field": "y", "type": "quantitative", "scale": {"type": "log", "domain": [50, 200], "range": [192.3, 41], "nice": false},
                     "axis": {"orient": "left", "offset": -73.3, "values": [60, 80, 100, 200], "tickCount": 100, "format": "d", "grid": true, "gridColor": "#d0d0d0", "gridWidth": 1.5, "gridOpacity": {"condition": {"test": "datum.value == 200", "value": 0}, "value": 1}, "domainColor": "#111111", "domainWidth": 1.5, "ticks": false, "labelPadding": 7, "labelFontSize": 15, "title": "Negative Return", "titleFontSize": 15.7, "titleX": -49.3, "titleY": 113, "titleBaseline": "middle"}}
             }},
            {"data": {"name": "lcC"}, "mark": {"type": "point", "shape": "triangle-up", "filled": true, "size": 18, "color": "#b40000", "opacity": 1},
             "encoding": {"x": {"field": "x", "type": "quantitative", "axis": {"orient": "top", "values": [4000, 6000, 8000], "tickCount": 100, "grid": true, "gridColor": "#d0d0d0", "gridWidth": 1.5, "labels": false, "ticks": false, "domain": false, "title": null}}, "y": {"field": "y", "type": "quantitative"}}},
            {"data": {"values": [{"x": 3750, "x2": 4350, "y": 74.2, "y2": 159.3}]}, "mark": {"type": "rect", "fillOpacity": 0, "stroke": "#1eb050", "strokeWidth": 2.5},
             "encoding": {"x": {"field": "x", "type": "quantitative", "axis": null}, "x2": {"field": "x2"}, "y": {"field": "y", "type": "quantitative"}, "y2": {"field": "y2"}}},
            {"data": {"values": [{"x": 7375, "y": 101.5}, {"x": 7192, "y": 30.5}]}, "mark": {"type": "line", "color": "#2b7de9", "strokeWidth": 1.5},
             "encoding": {"x": {"field": "x", "type": "quantitative", "axis": null}, "y": {"field": "y", "type": "quantitative"}}},
            {"data": {"values": [{"x": 6405, "y": 240.5, "t": "Learning Curves (zoom in)"}]}, "mark": {"type": "text", "align": "center", "baseline": "middle", "fontSize": 17.5, "fontWeight": "bold"},
             "encoding": {"x": {"field": "x", "type": "quantitative", "axis": null}, "y": {"field": "y", "type": "quantitative"}, "text": {"field": "t"}}},
            {"data": {"values": [{"x": 6610, "y": 184.7}]}, "mark": {"type": "point", "shape": "circle", "filled": true, "size": 30, "color": "#1d50d4", "opacity": 1},
             "encoding": {"x": {"field": "x", "type": "quantitative", "axis": null}, "y": {"field": "y", "type": "quantitative"}}},
            {"data": {"values": [{"x": 8068, "y": 184.7}]}, "mark": {"type": "point", "shape": "triangle-up", "filled": true, "size": 24, "color": "#b40000", "opacity": 1},
             "encoding": {"x": {"field": "x", "type": "quantitative", "axis": null}, "y": {"field": "y", "type": "quantitative"}}},
            {"data": {"values": [{"x": 6868, "y": 184.7, "t": "PPO"}, {"x": 8218, "y": 184.7, "t": "C-PPO"}]}, "mark": {"type": "text", "align": "left", "baseline": "middle", "fontSize": 16},
             "encoding": {"x": {"field": "x", "type": "quantitative", "axis": null}, "y": {"field": "y", "type": "quantitative"}, "text": {"field": "t"}}},
            {"data": {"values": [{"x": 3542, "y": 175.9, "t": "Stable"}]}, "mark": {"type": "text", "align": "left", "baseline": "middle", "fontSize": 16, "color": "#1eb050"},
             "encoding": {"x": {"field": "x", "type": "quantitative", "axis": null}, "y": {"field": "y", "type": "quantitative"}, "text": {"field": "t"}}},
            {"data": {"values": [{"x": 7992, "y": 147.6, "t": "Unstable"}]}, "mark": {"type": "text", "align": "left", "baseline": "middle", "fontSize": 15, "color": "#3b73dc"},
             "encoding": {"x": {"field": "x", "type": "quantitative", "axis": null}, "y": {"field": "y", "type": "quantitative"}, "text": {"field": "t"}}},
            {"data": {"values": [{"x": 8218, "y": 52.2, "t": "Stable"}]}, "mark": {"type": "text", "align": "left", "baseline": "middle", "fontSize": 16, "color": "#c00000"},
             "encoding": {"x": {"field": "x", "type": "quantitative", "axis": null}, "y": {"field": "y", "type": "quantitative"}, "text": {"field": "t"}}}
          ]
        },
        {
          "layer": [
            {"data": {"name": "osc"}, "mark": {"type": "area", "color": "#1a55cc", "opacity": 1},
             "encoding": {
               "x": {"field": "t", "type": "quantitative", "scale": {"domain": [0, 16], "range": [75, 291], "nice": false, "zero": false}, "axis": null},
               "y": {"field": "hi", "type": "quantitative", "scale": {"domain": [-12, -4.5], "range": [344, 253.6], "nice": false, "zero": false},
                     "axis": {"orient": "left", "offset": -75, "values": [-12, -10, -8, -6], "tickCount": 100, "labelExpr": "'-' + format(abs(datum.value), 'd')", "grid": true, "gridColor": "#d9d9d9", "gridWidth": 1.2, "domain": false, "ticks": false, "labelPadding": 2, "labelFontSize": 15.5, "title": "Force", "titleFontSize": 15.5, "titleX": -42.7, "titleY": 288, "titleBaseline": "middle"}},
               "y2": {"field": "lo"}
             }},
            {"data": {"name": "osc"}, "mark": {"type": "point", "shape": "circle", "filled": true, "size": 50, "color": "#1a55cc", "opacity": 1},
             "encoding": {"x": {"field": "t", "type": "quantitative"}, "y": {"field": "hi", "type": "quantitative"}}},
            {"data": {"name": "osc"}, "mark": {"type": "point", "shape": "circle", "filled": true, "size": 50, "color": "#1a55cc", "opacity": 1},
             "encoding": {"x": {"field": "t", "type": "quantitative"}, "y": {"field": "lo", "type": "quantitative"}}},
            {"data": {"values": [{"t": 0.7, "f": -7.6}, {"t": 0.7, "f": -4.5}]}, "mark": {"type": "line", "color": "#6b9cf0", "strokeWidth": 1, "strokeDash": [1, 2]},
             "encoding": {"x": {"field": "t", "type": "quantitative"}, "y": {"field": "f", "type": "quantitative"}}},
            {"data": {"values": [{"t": 0.75, "f": -9.5}, {"t": 15.8, "f": -9.5}]}, "mark": {"type": "line", "color": "#c00000", "strokeWidth": 3},
             "encoding": {"x": {"field": "t", "type": "quantitative"}, "y": {"field": "f", "type": "quantitative"}}},
            {"data": {"values": [{"t": 15.68, "f": -5.69, "s": "Instabilities"}]}, "mark": {"type": "text", "align": "right", "baseline": "middle", "fontSize": 16, "fontWeight": "bold"},
             "encoding": {"x": {"field": "t", "type": "quantitative"}, "y": {"field": "f", "type": "quantitative"}, "text": {"field": "s"}}},
            {"data": {"values": [{"t": 16.2, "f": -12.27, "s": "Oscillation"}]}, "mark": {"type": "text", "align": "right", "baseline": "middle", "fontSize": 16},
             "encoding": {"x": {"field": "t", "type": "quantitative"}, "y": {"field": "f", "type": "quantitative"}, "text": {"field": "s"}}}
          ]
        },
        {
          "layer": [
            {"data": {"name": "drift"}, "mark": {"type": "line", "color": "#1a55cc", "strokeWidth": 5, "strokeCap": "round", "strokeJoin": "round"},
             "encoding": {
               "x": {"field": "t", "type": "quantitative", "scale": {"domain": [0, 16], "range": [75, 291], "nice": false, "zero": false},
                     "axis": {"orient": "bottom", "offset": -45.7, "values": [0, 5, 10, 15], "tickCount": 100, "format": "d", "grid": false, "domain": false, "ticks": false, "labelPadding": 4, "labelFontSize": 15.5, "title": "Time (s)", "titleFontSize": 15.8, "titleX": 168.3, "titleY": 26.7, "titleBaseline": "middle"}},
               "y": {"field": "f", "type": "quantitative", "scale": {"domain": [-5.25, -2.2], "range": [446.3, 351], "nice": false, "zero": false},
                     "axis": {"orient": "left", "offset": -75, "values": [-5, -4, -3], "tickCount": 100, "labelExpr": "'-' + format(abs(datum.value), 'd')", "grid": true, "gridColor": "#d9d9d9", "gridWidth": 1.2, "gridOpacity": {"condition": {"test": "datum.value == -5", "value": 0}, "value": 1}, "domain": false, "ticks": false, "labelPadding": 5, "labelFontSize": 15.5, "title": "Force", "titleFontSize": 15.5, "titleX": -46.7, "titleY": 371.3, "titleBaseline": "middle"}}
             }},
            {"data": {"values": [{"t": 0, "f": -4.86}, {"t": 15.8, "f": -4.86}]}, "mark": {"type": "line", "color": "#c00000", "strokeWidth": 3},
             "encoding": {"x": {"field": "t", "type": "quantitative"}, "y": {"field": "f", "type": "quantitative"}}},
            {"data": {"values": [{"t": 15.85, "f": -3.84, "s": "Drift"}]}, "mark": {"type": "text", "align": "right", "baseline": "middle", "fontSize": 16},
             "encoding": {"x": {"field": "t", "type": "quantitative"}, "y": {"field": "f", "type": "quantitative"}, "text": {"field": "s"}}},
            {"data": {"values": [{"t": -4.54, "t2": 17.48, "f": -6.5, "f2": 1.1}]}, "mark": {"type": "rect", "fillOpacity": 0, "stroke": "#2b7de9", "strokeWidth": 2},
             "encoding": {"x": {"field": "t", "type": "quantitative"}, "x2": {"field": "t2"}, "y": {"field": "f", "type": "quantitative"}, "y2": {"field": "f2"}}}
          ]
        },
        {
          "resolve": {"axis": {"x": "independent"}},
          "layer": [
            {"data": {"name": "frac"}, "transform": [{"filter": "datum.s == 'PPO'"}], "mark": {"type": "line", "color": "#1c56d8", "strokeWidth": 3.5},
             "encoding": {
               "x": {"field": "x", "type": "quantitative", "scale": {"domain": [4000, 9000], "range": [424.3, 700.3], "nice": false, "zero": false},
                     "axis": {"orient": "bottom", "offset": -84.7, "values": [4000, 5000, 6000, 7000, 8000, 9000], "tickCount": 100, "format": "d", "grid": false, "domain": false, "ticks": false, "labelPadding": 12, "labelFontSize": 15.5, "title": "Episodes", "titleFontSize": 15.7, "titleY": 57.4, "titleBaseline": "middle"}},
               "y": {"field": "y", "type": "quantitative", "scale": {"domain": [0, 0.005], "range": [407.3, 68.7], "nice": false, "zero": false},
                     "axis": {"orient": "left", "offset": -424.3, "values": [0, 0.00033333, 0.00066667, 0.001, 0.00133333, 0.00166667, 0.002, 0.00233333, 0.00266667, 0.003, 0.00333333, 0.00366667, 0.004, 0.00433333, 0.00466667, 0.005], "tickCount": 100, "labelOverlap": false,
                              "labelExpr": "abs(datum.value*1000 - round(datum.value*1000)) < 0.01 ? format(datum.value, '.2%') : ''",
                              "grid": true, "gridColor": {"condition": {"test": "abs(datum.value*1000 - round(datum.value*1000)) < 0.01", "value": "#c9c9c9"}, "value": "#e6e6e6"}, "gridWidth": 1.2,
                              "domainColor": "#333333", "domainWidth": 1.5, "ticks": false, "labelPadding": 9, "labelFontSize": 15.5, "title": "Fraction of Oscillation and Drift", "titleFontSize": 15.8, "titleX": -71, "titleY": 246, "titleBaseline": "middle"}}
             }},
            {"data": {"name": "frac"}, "transform": [{"filter": "datum.s == 'C-PPO'"}], "mark": {"type": "line", "color": "#cc0000", "strokeWidth": 3},
             "encoding": {"x": {"field": "x", "type": "quantitative", "axis": {"orient": "top", "values": [4000, 5000, 6000, 7000, 8000, 9000], "tickCount": 100, "grid": true, "gridColor": "#d4d4d4", "gridWidth": 1.2, "labels": false, "ticks": false, "domain": false, "title": null}}, "y": {"field": "y", "type": "quantitative"}}},
            {"data": {"values": [{"x": 3813, "x2": 4152, "y": -0.000148, "y2": 0.000152}]}, "mark": {"type": "rect", "fillOpacity": 0, "stroke": "#1eb050", "strokeWidth": 2.5},
             "encoding": {"x": {"field": "x", "type": "quantitative", "axis": null}, "x2": {"field": "x2"}, "y": {"field": "y", "type": "quantitative"}, "y2": {"field": "y2"}}},
            {"data": {"values": [{"x": 6141, "y": 0.005705, "t": "Fraction of Instabilities in Testing"}]}, "mark": {"type": "text", "align": "center", "baseline": "middle", "fontSize": 17.5, "fontWeight": "bold"},
             "encoding": {"x": {"field": "x", "type": "quantitative", "axis": null}, "y": {"field": "y", "type": "quantitative"}, "text": {"field": "t"}}},
            {"data": {"values": [{"x": 6580, "y": 0.004818}]}, "mark": {"type": "point", "shape": "M -1 -0.3 L 1 -0.3 L 1 0.3 L -1 0.3 Z", "size": 100, "filled": true, "color": "#1c56d8", "opacity": 1},
             "encoding": {"x": {"field": "x", "type": "quantitative", "axis": null}, "y": {"field": "y", "type": "quantitative"}}},
            {"data": {"values": [{"x": 7763, "y": 0.004818}]}, "mark": {"type": "point", "shape": "M -1 -0.3 L 1 -0.3 L 1 0.3 L -1 0.3 Z", "size": 100, "filled": true, "color": "#cc0000", "opacity": 1},
             "encoding": {"x": {"field": "x", "type": "quantitative", "axis": null}, "y": {"field": "y", "type": "quantitative"}}},
            {"data": {"values": [{"x": 6803, "y": 0.004818, "t": "PPO"}, {"x": 7998, "y": 0.004818, "t": "C-PPO"}]}, "mark": {"type": "text", "align": "left", "baseline": "middle", "fontSize": 16},
             "encoding": {"x": {"field": "x", "type": "quantitative", "axis": null}, "y": {"field": "y", "type": "quantitative"}, "text": {"field": "t"}}},
            {"data": {"values": [{"x": 7485, "y": 0.00238, "t": "Unstable"}]}, "mark": {"type": "text", "align": "center", "baseline": "middle", "fontSize": 16, "angle": 307, "color": "#2a6fe0"},
             "encoding": {"x": {"field": "x", "type": "quantitative", "axis": null}, "y": {"field": "y", "type": "quantitative"}, "text": {"field": "t"}}},
            {"data": {"values": [{"x": 4085, "y": 0.000334, "t": "Stable"}]}, "mark": {"type": "text", "align": "left", "baseline": "middle", "fontSize": 16, "color": "#1eb050"},
             "encoding": {"x": {"field": "x", "type": "quantitative", "axis": null}, "y": {"field": "y", "type": "quantitative"}, "text": {"field": "t"}}},
            {"data": {"values": [{"x": 8851, "y": 0.000171, "t": "Stable"}]}, "mark": {"type": "text", "align": "right", "baseline": "middle", "fontSize": 16, "color": "#cc0000"},
             "encoding": {"x": {"field": "x", "type": "quantitative", "axis": null}, "y": {"field": "y", "type": "quantitative"}, "text": {"field": "t"}}}
          ]
        }
      ]
    },
    {
      "width": 301, "height": 492,
      "title": {"text": "(b) Generalization and robustness."},
      "resolve": {"scale": {"x": "independent", "y": "independent"}},
      "layer": [
        {
          "layer": [
            {"data": {"values": [{"x": 0, "y": 0, "r": "Test"}]}, "mark": {"type": "point", "shape": "M -1 0 A 1 0.37 0 1 1 1 0 A 1 0.37 0 1 1 -1 0 Z", "size": 75076, "filled": true, "fill": "#ffc000", "stroke": "#34405c", "strokeWidth": 1, "opacity": 1},
             "encoding": {
               "x": {"field": "x", "type": "quantitative", "scale": {"domain": [-2, 2], "range": [16.8, 290.8], "nice": false, "zero": false}, "axis": null},
               "y": {"field": "y", "type": "quantitative", "scale": {"domain": [-1.5, 1.5], "range": [125.4, 24], "nice": false, "zero": false}, "axis": null}
             }},
            {"data": {"values": [{"x": 0, "y": 0, "r": "Train"}]}, "mark": {"type": "point", "shape": "M -1 0 A 1 0.487 0 1 1 1 0 A 1 0.487 0 1 1 -1 0 Z", "size": 18687, "filled": true, "fill": "#f0f000", "stroke": "#34405c", "strokeWidth": 1, "opacity": 1},
             "encoding": {"x": {"field": "x", "type": "quantitative", "axis": null}, "y": {"field": "y", "type": "quantitative", "axis": null}}},
            {"data": {"values": [{"x": 0, "y": 0, "x2": 0, "y2": 1.47}, {"x": 0, "y": 0, "x2": 1.97, "y2": 0}]}, "mark": {"type": "rule", "color": "#000000", "strokeWidth": 1.5},
             "encoding": {"x": {"field": "x", "type": "quantitative", "axis": null}, "y": {"field": "y", "type": "quantitative", "axis": null}, "x2": {"field": "x2"}, "y2": {"field": "y2"}}},
            {"data": {"values": [{"x": 0, "y": 1.5}]}, "mark": {"type": "point", "shape": "M 0 0 L -0.5 1 L 0.5 1 Z", "size": 100, "filled": true, "color": "#000000", "opacity": 1},
             "encoding": {"x": {"field": "x", "type": "quantitative", "axis": null}, "y": {"field": "y", "type": "quantitative", "axis": null}}},
            {"data": {"values": [{"x": 2, "y": 0}]}, "mark": {"type": "point", "shape": "M 0 0 L -1 -0.5 L -1 0.5 Z", "size": 100, "filled": true, "color": "#000000", "opacity": 1},
             "encoding": {"x": {"field": "x", "type": "quantitative", "axis": null}, "y": {"field": "y", "type": "quantitative", "axis": null}}},
            {"data": {"values": [{"x": -2.128, "y": 1.728, "t": "Dynamic parameter set"}]}, "mark": {"type": "text", "align": "left", "baseline": "middle", "font": "Lato", "fontSize": 15.5},
             "encoding": {"x": {"field": "x", "type": "quantitative", "axis": null}, "y": {"field": "y", "type": "quantitative", "axis": null}, "text": {"field": "t"}}},
            {"data": {"values": [{"x": -1.21, "y": 0.612, "t": "Test"}, {"x": -0.53, "y": 0.198, "t": "Train"}]}, "mark": {"type": "text", "align": "center", "baseline": "middle", "font": "Lato", "fontSize": 16},
             "encoding": {"x": {"field": "x", "type": "quantitative", "axis": null}, "y": {"field": "y", "type": "quantitative", "axis": null}, "text": {"field": "t"}}},
            {"data": {"values": [{"x": 0.05, "y": 1.234, "t": "1.5r₂"}, {"x": 0.08, "y": 0.692, "t": "r₂"}]}, "mark": {"type": "text", "align": "left", "baseline": "middle", "font": "DejaVu Serif", "fontStyle": "italic", "fontSize": 15},
             "encoding": {"x": {"field": "x", "type": "quantitative", "axis": null}, "y": {"field": "y", "type": "quantitative", "axis": null}, "text": {"field": "t"}}},
            {"data": {"values": [{"x": -0.045, "y": -0.246, "t": "o"}, {"x": 0.73, "y": -0.314, "t": "r₁"}, {"x": 1.682, "y": -0.314, "t": "2r₁"}]}, "mark": {"type": "text", "align": "center", "baseline": "middle", "font": "DejaVu Serif", "fontStyle": "italic", "fontSize": 15},
             "encoding": {"x": {"field": "x", "type": "quantitative", "axis": null}, "y": {"field": "y", "type": "quantitative", "axis": null}, "text": {"field": "t"}}}
          ]
        },
        {
          "layer": [
            {"data": {"name": "posH"}, "transform": [{"filter": "datum.s == 'PPO'"}], "mark": {"type": "bar", "orient": "vertical", "size": 3, "color": "#4a86e8"},
             "encoding": {
               "x": {"field": "k", "type": "quantitative", "scale": {"domain": [-0.35, 49.7], "range": [46.3, 291.5], "nice": false, "zero": false},
                     "axis": {"orient": "bottom", "offset": -253.3, "values": [1.5, 9.5, 17.5, 25.5, 33.5, 41.5, 49.5], "tickCount": 100, "labelExpr": "['-0.3','-0.2','-0.2','-0.1','-0.0','0.01','0.08'][round((datum.value-1.5)/8)]", "labelAngle": -30, "labelAlign": "right", "labelBaseline": "top", "labelPadding": 11, "labelFontSize": 14.5, "ticks": false, "grid": false, "domainColor": "#c4c4c4", "domainWidth": 1.2, "title": "Position Error (>0.001)", "titleFontSize": 15.3, "titleX": 166.7, "titleY": 62.6, "titleBaseline": "middle"}},
               "y": {"field": "n", "type": "quantitative", "scale": {"type": "log", "domain": [1, 1000], "range": [238.7, 156.3], "nice": false},
                     "axis": {"orient": "left", "offset": -46.3, "values": [1, 10, 100, 1000], "tickCount": 100, "format": "d", "grid": true, "gridColor": "#d6d6d6", "gridWidth": 1.2, "domain": false, "ticks": false, "labelPadding": 8, "labelFontSize": 14.8, "title": null}},
               "y2": {"datum": 1}
             }},
            {"data": {"name": "posH"}, "transform": [{"filter": "datum.s == 'C-PPO'"}], "mark": {"type": "bar", "orient": "vertical", "size": 3, "color": "#cc0000"},
             "encoding": {"x": {"field": "k", "type": "quantitative"}, "y": {"field": "n", "type": "quantitative"}, "y2": {"datum": 1}}},
            {"data": {"values": [{"k": 0, "n": 3515}]}, "mark": {"type": "point", "shape": "square", "filled": true, "size": 45, "color": "#4a86e8", "opacity": 1},
             "encoding": {"x": {"field": "k", "type": "quantitative"}, "y": {"field": "n", "type": "quantitative"}}},
            {"data": {"values": [{"k": 21.2, "n": 3515}]}, "mark": {"type": "point", "shape": "square", "filled": true, "size": 45, "color": "#cc0000", "opacity": 1},
             "encoding": {"x": {"field": "k", "type": "quantitative"}, "y": {"field": "n", "type": "quantitative"}}},
            {"data": {"values": [{"k": 1.37, "n": 3515, "t": "PPO (count)"}, {"k": 22.8, "n": 3515, "t": "C-PPO (count)"}]}, "mark": {"type": "text", "align": "left", "baseline": "middle", "fontSize": 15.3},
             "encoding": {"x": {"field": "k", "type": "quantitative"}, "y": {"field": "n", "type": "quantitative"}, "text": {"field": "t"}}}
          ]
        },
        {
          "layer": [
            {"data": {"name": "forH"}, "transform": [{"filter": "datum.s == 'PPO'"}], "mark": {"type": "bar", "orient": "vertical", "size": 3, "color": "#4a86e8"},
             "encoding": {
               "x": {"field": "k", "type": "quantitative", "scale": {"domain": [-0.35, 49.7], "range": [46.3, 291.5], "nice": false, "zero": false},
                     "axis": {"orient": "bottom", "offset": -73, "values": [1.5, 9.5, 17.5, 25.5, 33.5, 41.5, 49.5], "tickCount": 100, "labelExpr": "['-2.50','-1.62','-0.74','0.14','1.02','1.90','2.78'][round((datum.value-1.5)/8)]", "labelAngle": -30, "labelAlign": "right", "labelBaseline": "top", "labelPadding": 11, "labelFontSize": 14.5, "ticks": false, "grid": false, "domainColor": "#c4c4c4", "domainWidth": 1.2, "title": "Force Error (>0.01)", "titleFontSize": 15.3, "titleX": 149.3, "titleY": 51.3, "titleBaseline": "middle"}},
               "y": {"field": "n", "type": "quantitative", "scale": {"type": "log", "domain": [1, 1000], "range": [419, 333], "nice": false},
                     "axis": {"orient": "left", "offset": -46.3, "values": [1, 10, 100, 1000], "tickCount": 100, "format": "d", "grid": true, "gridColor": "#d6d6d6", "gridWidth": 1.2, "domain": false, "ticks": false, "labelPadding": 8, "labelFontSize": 14.8, "title": null}},
               "y2": {"datum": 1}
             }},
            {"data": {"name": "forH"}, "transform": [{"filter": "datum.s == 'C-PPO'"}], "mark": {"type": "bar", "orient": "vertical", "size": 3, "color": "#cc0000"},
             "encoding": {"x": {"field": "k", "type": "quantitative"}, "y": {"field": "n", "type": "quantitative"}, "y2": {"datum": 1}}}
          ]
        }
      ]
    },
    {
      "width": 284, "height": 492,
      "title": {"text": "(c) Prevention of overfitting."},
      "resolve": {"scale": {"x": "independent", "y": "independent"}},
      "layer": [
        {
          "resolve": {"axis": {"x": "independent"}},
          "layer": [
            {"data": {"name": "c1"}, "transform": [{"filter": "datum.s == 'PPO'"}], "mark": {"type": "line", "color": "#4a90f0", "strokeWidth": 2.2},
             "encoding": {
               "x": {"field": "x", "type": "quantitative", "scale": {"domain": [0, 9000], "range": [76.3, 265.7], "nice": false, "zero": false},
                     "axis": {"orient": "bottom", "offset": -349.7, "values": [0, 2000, 4000, 6000, 8000], "tickCount": 100, "labels": false, "grid": false, "domainColor": "#1a1a1a", "domainWidth": 1.5, "tickColor": "#1a1a1a", "tickSize": 4, "title": null}},
               "y": {"field": "y", "type": "quantitative", "scale": {"type": "log", "domain": [50, 10000], "range": [142.3, 32.5], "nice": false},
                     "axis": {"orient": "left", "offset": -76.3, "values": [50, 100, 500, 1000, 5000, 10000], "tickCount": 100, "format": "d", "labelExpr": "indexof([50, 500, 5000], datum.value) >= 0 ? datum.label : ''", "grid": true, "gridColor": "#e2e2e2", "domainColor": "#1a1a1a", "domainWidth": 1.5, "ticks": false, "labelPadding": 9, "labelFontSize": 14.8, "title": null}},
               "detail": {"field": "g"}
             }},
            {"data": {"name": "c1"}, "transform": [{"filter": "datum.s == 'PPO'"}], "mark": {"type": "point", "shape": "circle", "filled": true, "size": 9, "color": "#4a90f0", "opacity": 1},
             "encoding": {"x": {"field": "x", "type": "quantitative", "axis": {"orient": "top", "values": [0, 1000, 2000, 3000, 4000, 5000, 6000, 7000, 8000, 9000], "tickCount": 100, "grid": true, "gridColor": "#e2e2e2", "labels": false, "ticks": false, "domain": false, "title": null}}, "y": {"field": "y", "type": "quantitative"}}},
            {"data": {"name": "c1"}, "transform": [{"filter": "datum.s == 'C-PPO'"}], "mark": {"type": "line", "color": "#c00000", "strokeWidth": 2.2},
             "encoding": {"x": {"field": "x", "type": "quantitative", "axis": null}, "y": {"field": "y", "type": "quantitative"}, "detail": {"field": "g"}}},
            {"data": {"name": "c1"}, "transform": [{"filter": "datum.s == 'C-PPO'"}], "mark": {"type": "point", "shape": "circle", "filled": true, "size": 7, "color": "#c00000", "opacity": 1},
             "encoding": {"x": {"field": "x", "type": "quantitative", "axis": null}, "y": {"field": "y", "type": "quantitative"}}},
            {"data": {"values": [{"x": -157, "y": 19500, "t": "π"}, {"x": 3717, "y": 19500, "t": "V"}]}, "mark": {"type": "text", "align": "left", "baseline": "middle", "font": "DejaVu Serif", "fontWeight": "bold", "fontStyle": "italic", "fontSize": 15},
             "encoding": {"x": {"field": "x", "type": "quantitative", "axis": null}, "y": {"field": "y", "type": "quantitative"}, "text": {"field": "t"}}},
            {"data": {"values": [{"x": 314, "y": 19500, "t": "θ"}, {"x": 4268, "y": 19500, "t": "θ"}]}, "mark": {"type": "text", "align": "left", "baseline": "middle", "dy": 5, "font": "DejaVu Serif", "fontWeight": "bold", "fontStyle": "italic", "fontSize": 10},
             "encoding": {"x": {"field": "x", "type": "quantitative", "axis": null}, "y": {"field": "y", "type": "quantitative"}, "text": {"field": "t"}}},
            {"data": {"values": [{"x": 599, "y": 19500, "t": ": 3×32,"}, {"x": 4553, "y": 19500, "t": ": 3×32"}]}, "mark": {"type": "text", "align": "left", "baseline": "middle", "font": "DejaVu Serif", "fontWeight": "bold", "fontSize": 15},
             "encoding": {"x": {"field": "x", "type": "quantitative", "axis": null}, "y": {"field": "y", "type": "quantitative"}, "text": {"field": "t"}}},
            {"data": {"values": [{"x": 3750, "y": 5750}]}, "mark": {"type": "point", "shape": "circle", "filled": true, "size": 40, "color": "#4a90f0", "opacity": 1},
             "encoding": {"x": {"field": "x", "type": "quantitative", "axis": null}, "y": {"field": "y", "type": "quantitative"}}},
            {"data": {"values": [{"x": 6340, "y": 5750}]}, "mark": {"type": "point", "shape": "triangle-up", "filled": true, "size": 22, "color": "#c00000", "opacity": 1},
             "encoding": {"x": {"field": "x", "type": "quantitative", "axis": null}, "y": {"field": "y", "type": "quantitative"}}},
            {"data": {"values": [{"x": 4087, "y": 5750, "t": "PPO"}, {"x": 6545, "y": 5750, "t": "C-PPO"}]}, "mark": {"type": "text", "align": "left", "baseline": "middle", "fontSize": 14.8},
             "encoding": {"x": {"field": "x", "type": "quantitative", "axis": null}, "y": {"field": "y", "type": "quantitative"}, "text": {"field": "t"}}}
          ]
        },
        {
          "resolve": {"axis": {"x": "independent"}},
          "layer": [
            {"data": {"name": "c2"}, "transform": [{"filter": "datum.s == 'PPO'"}], "mark": {"type": "line", "color": "#4a90f0", "strokeWidth": 1.2},
             "encoding": {
               "x": {"field": "x", "type": "quantitative", "scale": {"domain": [0, 8000], "range": [76.3, 272.7], "nice": false, "zero": false},
                     "axis": {"orient": "bottom", "offset": -195.7, "values": [0, 2000, 4000, 6000, 8000], "tickCount": 100, "labels": false, "grid": false, "domainColor": "#1a1a1a", "domainWidth": 1.5, "tickColor": "#1a1a1a", "tickSize": 4, "title": null}},
               "y": {"field": "y", "type": "quantitative", "scale": {"type": "log", "domain": [54, 10000], "range": [296.3, 174.5], "nice": false},
                     "axis": {"orient": "left", "offset": -76.3, "values": [100, 500, 1000, 5000, 10000], "tickCount": 100, "format": "d", "labelExpr": "indexof([100, 500, 5000], datum.value) >= 0 ? datum.label : ''", "grid": true, "gridColor": "#e2e2e2", "domainColor": "#1a1a1a", "domainWidth": 1.5, "ticks": false, "labelPadding": 9, "labelFontSize": 14.8, "title": "Negative Return (log scale)", "titleFontSize": 14.5, "titleX": -60.3, "titleY": 244.7, "titleBaseline": "middle"}},
               "detail": {"field": "g"}
             }},
            {"data": {"name": "c2"}, "transform": [{"filter": "datum.s == 'PPO'"}], "mark": {"type": "point", "shape": "circle", "filled": true, "size": 11, "color": "#4a90f0", "opacity": 1},
             "encoding": {"x": {"field": "x", "type": "quantitative", "axis": {"orient": "top", "values": [0, 1000, 2000, 3000, 4000, 5000, 6000, 7000, 8000], "tickCount": 100, "grid": true, "gridColor": "#e2e2e2", "labels": false, "ticks": false, "domain": false, "title": null}}, "y": {"field": "y", "type": "quantitative"}}},
            {"data": {"name": "c2"}, "transform": [{"filter": "datum.s == 'C-PPO'"}], "mark": {"type": "line", "color": "#c00000", "strokeWidth": 2.2},
             "encoding": {"x": {"field": "x", "type": "quantitative", "axis": null}, "y": {"field": "y", "type": "quantitative"}, "detail": {"field": "g"}}},
            {"data": {"name": "c2"}, "transform": [{"filter": "datum.s == 'C-PPO'"}], "mark": {"type": "point", "shape": "circle", "filled": true, "size": 7, "color": "#c00000", "opacity": 1},
             "encoding": {"x": {"field": "x", "type": "quantitative", "axis": null}, "y": {"field": "y", "type": "quantitative"}}},
            {"data": {"values": [{"x": 16, "y": 15870, "t": "π"}, {"x": 3760, "y": 15870, "t": "V"}]}, "mark": {"type": "text", "align": "left", "baseline": "middle", "font": "DejaVu Serif", "fontWeight": "bold", "fontStyle": "italic", "fontSize": 15},
             "encoding": {"x": {"field": "x", "type": "quantitative", "axis": null}, "y": {"field": "y", "type": "quantitative"}, "text": {"field": "t"}}},
            {"data": {"values": [{"x": 420, "y": 15870, "t": "θ"}, {"x": 4232, "y": 15870, "t": "θ"}]}, "mark": {"type": "text", "align": "left", "baseline": "middle", "dy": 5, "font": "DejaVu Serif", "fontWeight": "bold", "fontStyle": "italic", "fontSize": 10},
             "encoding": {"x": {"field": "x", "type": "quantitative", "axis": null}, "y": {"field": "y", "type": "quantitative"}, "text": {"field": "t"}}},
            {"data": {"values": [{"x": 664, "y": 15870, "t": ": 3×256,"}, {"x": 4477, "y": 15870, "t": ": 3×256"}]}, "mark": {"type": "text", "align": "left", "baseline": "middle", "font": "DejaVu Serif", "fontWeight": "bold", "fontSize": 15},
             "encoding": {"x": {"field": "x", "type": "quantitative", "axis": null}, "y": {"field": "y", "type": "quantitative"}, "text": {"field": "t"}}},
            {"data": {"values": [{"x": 3462, "y": 5430}]}, "mark": {"type": "point", "shape": "circle", "filled": true, "size": 40, "color": "#4a90f0", "opacity": 1},
             "encoding": {"x": {"field": "x", "type": "quantitative", "axis": null}, "y": {"field": "y", "type": "quantitative"}}},
            {"data": {"values": [{"x": 5568, "y": 5430}]}, "mark": {"type": "point", "shape": "triangle-up", "filled": true, "size": 22, "color": "#c00000", "opacity": 1},
             "encoding": {"x": {"field": "x", "type": "quantitative", "axis": null}, "y": {"field": "y", "type": "quantitative"}}},
            {"data": {"values": [{"x": 3695, "y": 5430, "t": "PPO"}, {"x": 5731, "y": 5430, "t": "C-PPO"}]}, "mark": {"type": "text", "align": "left", "baseline": "middle", "fontSize": 14.8},
             "encoding": {"x": {"field": "x", "type": "quantitative", "axis": null}, "y": {"field": "y", "type": "quantitative"}, "text": {"field": "t"}}}
          ]
        },
        {
          "resolve": {"axis": {"x": "independent"}},
          "layer": [
            {"data": {"name": "c3"}, "transform": [{"filter": "datum.s == 'PPO'"}], "mark": {"type": "line", "color": "#4a90f0", "strokeWidth": 1.6},
             "encoding": {
               "x": {"field": "x", "type": "quantitative", "scale": {"domain": [0, 8000], "range": [76.3, 272.7], "nice": false, "zero": false},
                     "axis": {"orient": "bottom", "offset": -47.3, "values": [0, 2000, 4000, 6000, 8000], "tickCount": 100, "format": "d", "labelExpr": "datum.value < 8000 ? datum.label : ''", "labelPadding": 6, "labelFontSize": 14.8, "grid": false, "domainColor": "#1a1a1a", "domainWidth": 1.5, "tickColor": "#1a1a1a", "tickSize": 4, "title": "Episodes", "titleFontSize": 14.8, "titleX": 174, "titleY": 36.6, "titleBaseline": "middle"}},
               "y": {"field": "y", "type": "quantitative", "scale": {"type": "log", "domain": [66, 10000], "range": [444.7, 324.7], "nice": false},
                     "axis": {"orient": "left", "offset": -76.3, "values": [100, 500, 1000, 5000, 10000], "tickCount": 100, "format": "d", "labelExpr": "indexof([100, 500, 5000], datum.value) >= 0 ? datum.label : ''", "grid": true, "gridColor": "#e2e2e2", "domainColor": "#1a1a1a", "domainWidth": 1.5, "ticks": false, "labelPadding": 9, "labelFontSize": 14.8, "title": null}},
               "detail": {"field": "g"}
             }},
            {"data": {"name": "c3"}, "transform": [{"filter": "datum.s == 'PPO'"}], "mark": {"type": "point", "shape": "circle", "filled": true, "size": 10, "color": "#4a90f0", "opacity": 1},
             "encoding": {"x": {"field": "x", "type": "quantitative", "axis": {"orient": "top", "values": [0, 1000, 2000, 3000, 4000, 5000, 6000, 7000, 8000], "tickCount": 100, "grid": true, "gridColor": "#e2e2e2", "labels": false, "ticks": false, "domain": false, "title": null}}, "y": {"field": "y", "type": "quantitative"}}},
            {"data": {"name": "c3"}, "transform": [{"filter": "datum.s == 'C-PPO' && datum.g == 'a'"}], "mark": {"type": "line", "color": "#c00000", "strokeWidth": 2.2},
             "encoding": {"x": {"field": "x", "type": "quantitative", "axis": null}, "y": {"field": "y", "type": "quantitative"}}},
            {"data": {"name": "c3"}, "transform": [{"filter": "datum.s == 'C-PPO'"}], "mark": {"type": "point", "shape": "circle", "filled": true, "size": 7, "color": "#c00000", "opacity": 1},
             "encoding": {"x": {"field": "x", "type": "quantitative", "axis": null}, "y": {"field": "y", "type": "quantitative"}}},
            {"data": {"values": [{"x": 16, "y": 14840, "t": "π"}, {"x": 3760, "y": 14840, "t": "V"}]}, "mark": {"type": "text", "align": "left", "baseline": "middle", "font": "DejaVu Serif", "fontWeight": "bold", "fontStyle": "italic", "fontSize": 15},
             "encoding": {"x": {"field": "x", "type": "quantitative", "axis": null}, "y": {"field": "y", "type": "quantitative"}, "text": {"field": "t"}}},
            {"data": {"values": [{"x": 420, "y": 14840, "t": "θ"}, {"x": 4232, "y": 14840, "t": "θ"}]}, "mark": {"type": "text", "align": "left", "baseline": "middle", "dy": 5, "font": "DejaVu Serif", "fontWeight": "bold", "fontStyle": "italic", "fontSize": 10},
             "encoding": {"x": {"field": "x", "type": "quantitative", "axis": null}, "y": {"field": "y", "type": "quantitative"}, "text": {"field": "t"}}},
            {"data": {"values": [{"x": 664, "y": 14840, "t": ": 3×512,"}, {"x": 4477, "y": 14840, "t": ": 3×32"}]}, "mark": {"type": "text", "align": "left", "baseline": "middle", "font": "DejaVu Serif", "fontWeight": "bold", "fontSize": 15},
             "encoding": {"x": {"field": "x", "type": "quantitative", "axis": null}, "y": {"field": "y", "type": "quantitative"}, "text": {"field": "t"}}},
            {"data": {"values": [{"x": 3300, "y": 5000}]}, "mark": {"type": "point", "shape": "circle", "filled": true, "size": 40, "color": "#4a90f0", "opacity": 1},
             "encoding": {"x": {"field": "x", "type": "quantitative", "axis": null}, "y": {"field": "y", "type": "quantitative"}}},
            {"data": {"values": [{"x": 5434, "y": 5000}]}, "mark": {"type": "point", "shape": "triangle-up", "filled": true, "size": 22, "color": "#c00000", "opacity": 1},
             "encoding": {"x": {"field": "x", "type": "quantitative", "axis": null}, "y": {"field": "y", "type": "quantitative"}}},
            {"data": {"values": [{"x": 3532, "y": 5000, "t": "PPO"}, {"x": 5597, "y": 5000, "t": "C-PPO"}]}, "mark": {"type": "text", "align": "left", "baseline": "middle", "fontSize": 14.8},
             "encoding": {"x": {"field": "x", "type": "quantitative", "axis": null}, "y": {"field": "y", "type": "quantitative"}, "text": {"field": "t"}}}
          ]
        }
      ]
    }
  ]
}
